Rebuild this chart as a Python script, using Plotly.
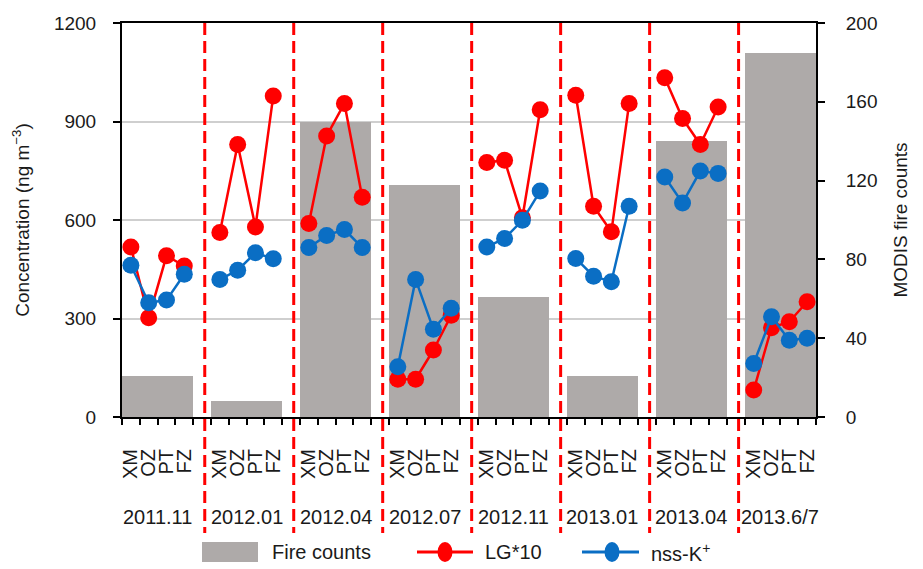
import plotly.graph_objects as go

# ---- data ----
groups = ["2011.11", "2012.01", "2012.04", "2012.07", "2012.11", "2013.01", "2013.04", "2013.6/7"]
sites = ["XM", "OZ", "PT", "FZ"]
fire_counts = [21, 8, 150, 118, 61, 21, 140, 185]
lg10 = [
    [518, 302, 491, 460],
    [562, 830, 579, 978],
    [589, 856, 955, 669],
    [115, 115, 204, 310],
    [775, 782, 607, 936],
    [980, 642, 564, 955],
    [1033, 909, 830, 944],
    [82, 272, 290, 351],
]
nss_k = [
    [462, 348, 356, 435],
    [419, 447, 500, 482],
    [516, 553, 571, 516],
    [153, 419, 267, 331],
    [518, 544, 599, 688],
    [483, 429, 412, 642],
    [731, 652, 749, 742],
    [163, 305, 234, 240],
]
conc_ticks = [0, 300, 600, 900, 1200]
fire_ticks = [0, 40, 80, 120, 160, 200]

SLOT = len(sites) + 1  # one empty slot between groups
FONT = "Liberation Sans, Arial, Helvetica, sans-serif"
TXT = "#1a1a1a"
RED = "#ff0000"
BLUE = "#0a6ec4"
GRAY = "#aeaaa9"

def slot_x(g, k):
    return g * SLOT + k

def build_xy(series):
    xs, ys = [], []
    for g, vals in enumerate(series):
        for k, v in enumerate(vals):
            xs.append(slot_x(g, k))
            ys.append(v)
        xs.append(None)
        ys.append(None)
    return xs, ys

fig = go.Figure()

# bars (fire counts) on the primary axis (drawn on the right side)
bar_x = [slot_x(g, (len(sites) - 1) / 2) for g in range(len(groups))]
fig.add_trace(go.Bar(
    x=bar_x, y=fire_counts, width=len(sites), yaxis="y",
    marker=dict(color=GRAY, line=dict(width=0)),
    name="Fire counts", showlegend=False,
))

xr, yr = build_xy(lg10)
fig.add_trace(go.Scatter(
    x=xr, y=yr, mode="lines+markers", name="LG*10", yaxis="y2",
    line=dict(color=RED, width=2.5),
    marker=dict(color=RED, size=17, symbol="circle"),
    connectgaps=False, showlegend=False,
))
xb, yb = build_xy(nss_k)
fig.add_trace(go.Scatter(
    x=xb, y=yb, mode="lines+markers", name="nss-K<sup>+</sup>", yaxis="y2",
    line=dict(color=BLUE, width=2.5),
    marker=dict(color=BLUE, size=17, symbol="circle"),
    connectgaps=False, showlegend=False,
))

tickvals, ticktext = [], []
for g in range(len(groups)):
    for k, s in enumerate(sites):
        tickvals.append(slot_x(g, k))
        ticktext.append(s)

n_slots = len(groups) * SLOT - 1
xrange_ = [-0.5, n_slots - 0.5]
conc_max = conc_ticks[-1]
fire_max = fire_ticks[-1]
grid_vals = [v * fire_max / conc_max for v in conc_ticks[1:-1]]

# ---- geometry: page has an 8px body margin ----
BODY = 8
W, H = 915, 561
PL, PR, PT_, PB = 122, 816, 23, 417   # plot area in page pixels
ML, MR, MT, MB = PL - BODY, BODY + W - PR, PT_ - BODY, BODY + H - PB
PW, PH = PR - PL, PB - PT_
def px(xp):
    return (xp - PL) / PW
def py(yp):
    return (PB - yp) / PH

shapes = []
for g in range(len(groups) - 1):
    xs = slot_x(g, len(sites)) + 0.15
    shapes.append(dict(
        type="line", xref="x", yref="paper", x0=xs, x1=xs, y0=1, y1=py(533),
        line=dict(color=RED, width=3, dash="12px,6px"), layer="above",
    ))

annotations = []
for g, name in enumerate(groups):
    annotations.append(dict(
        x=slot_x(g, (len(sites) - 1) / 2), y=py(517), xref="x", yref="paper",
        text=name, showarrow=False, yanchor="middle", xanchor="center",
        font=dict(family=FONT, size=20, color=TXT),
    ))

# ---- legend (drawn as swatches + labels) ----
LEG_Y = 552
shapes.append(dict(type="rect", xref="paper", yref="paper",
                   x0=px(202), x1=px(258), y0=py(562), y1=py(542),
                   fillcolor=GRAY, line=dict(width=0)))
for (x0, x1, xc, col) in [(417, 473, 445, RED), (582, 639, 612, BLUE)]:
    shapes.append(dict(type="line", xref="paper", yref="paper",
                       x0=px(x0), x1=px(x1), y0=py(LEG_Y), y1=py(LEG_Y),
                       line=dict(color=col, width=3)))
    shapes.append(dict(type="circle", xref="paper", yref="paper",
                       x0=px(xc - 7.5), x1=px(xc + 7.5), y0=py(LEG_Y + 10), y1=py(LEG_Y - 10),
                       fillcolor=col, line=dict(width=0)))
for (xl, label) in [(270, "Fire counts"), (483, "LG*10"), (649, "nss-K<sup>+</sup>")]:
    annotations.append(dict(x=px(xl), y=py(LEG_Y), xref="paper", yref="paper",
                            text=label, showarrow=False, xanchor="left", yanchor="middle",
                            font=dict(family=FONT, size=20, color=TXT)))

fig.update_layout(
    width=W, height=H,
    margin=dict(l=ML, r=MR, t=MT, b=MB, autoexpand=False),
    paper_bgcolor="white", plot_bgcolor="white",
    font=dict(family=FONT, size=19, color=TXT),
    bargap=0, showlegend=False,
    shapes=shapes,
    annotations=annotations,
    xaxis=dict(
        range=xrange_, tickmode="array", tickvals=tickvals, ticktext=ticktext,
        tickangle=-90, ticks="outside", ticklen=22, tickcolor="rgba(0,0,0,0)",
        tickfont=dict(family=FONT, size=20, color=TXT),
        showline=True, linecolor="black", linewidth=2, mirror=True,
        showgrid=False, zeroline=False, automargin=False,
        minor=dict(tickmode="linear", tick0=-0.5, dtick=1, ticks="outside",
                   ticklen=6, tickwidth=2, tickcolor="black", showgrid=False),
    ),
    yaxis=dict(
        range=[0, fire_max], tickmode="array", tickvals=fire_ticks,
        side="right",
        ticks="outside", ticklen=7, tickwidth=2, tickcolor="black",
        ticklabelstandoff=17,
        showline=True, linecolor="black", linewidth=2,
        showgrid=False, zeroline=False, automargin=False,
        minor=dict(tickmode="array", tickvals=grid_vals, ticks="",
                   showgrid=True, gridcolor="#cfcfcf", gridwidth=1.5),
        title=dict(text="MODIS fire counts", standoff=17,
                   font=dict(family=FONT, size=19, color=TXT)),
        tickfont=dict(family=FONT, size=19, color=TXT),
    ),
    yaxis2=dict(
        range=[0, conc_max], tickmode="array", tickvals=conc_ticks,
        overlaying="y", side="left",
        ticks="outside", ticklen=7, tickwidth=2, tickcolor="black",
        ticklabelstandoff=13,
        showline=True, linecolor="black", linewidth=2,
        showgrid=False, zeroline=False, automargin=False,
        title=dict(text="Concentration (ng m<sup>−3</sup>)", standoff=19,
                   font=dict(family=FONT, size=19, color=TXT)),
        tickfont=dict(family=FONT, size=19, color=TXT),
    ),
)

fig.write_html("out.html", config={"displayModeBar": False})
